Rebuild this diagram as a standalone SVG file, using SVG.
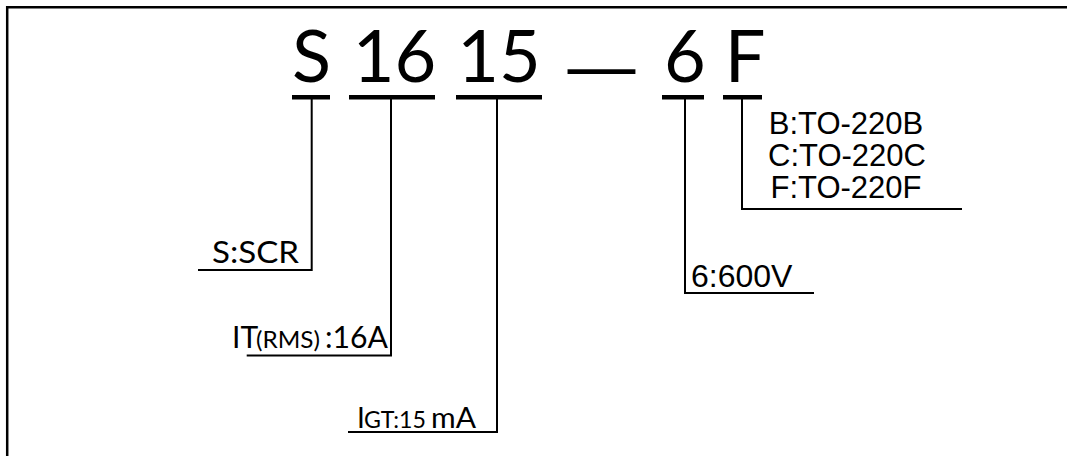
<svg xmlns="http://www.w3.org/2000/svg" width="1067" height="456" viewBox="0 0 1067 456">
<style>
.big{font-family:Lato,"Open Sans",sans-serif;font-size:72px;fill:#000;text-anchor:middle}
.cal{font-family:Lato,"Open Sans",sans-serif;fill:#000}
.ari{font-family:"Liberation Sans",Arial,sans-serif;fill:#000}
.ul{fill:#000}
.conn{stroke:#000;stroke-width:2;fill:none}
.frame{stroke:#000;stroke-width:2.5;fill:none}
</style>
<rect x="0" y="0" width="1067" height="456" fill="#fff"/>
<path class="frame" d="M7.2 456 V7.2 H1067"/>
<g id="code-S"><text class="big" x="311.5" y="82">S</text><rect class="ul" x="292" y="95" width="38" height="4.5"/></g>
<g id="code-16"><text class="big" x="394.5" y="82">16</text><rect class="ul" x="349" y="95" width="86" height="4.5"/></g>
<g id="code-15"><text class="big" x="499" y="82">15</text><rect class="ul" x="456" y="95" width="86" height="4.5"/></g>
<g id="dash"><text class="big" x="601.5" y="93" textLength="81" lengthAdjust="spacingAndGlyphs">—</text></g>
<g id="code-6"><text class="big" x="685" y="82">6</text><rect class="ul" x="662" y="95" width="42" height="4.5"/></g>
<g id="code-F"><text class="big" x="745" y="82">F</text><rect class="ul" x="723" y="95" width="39" height="4.5"/></g>
<g id="connectors">
<path class="conn" d="M311.7 99 V270 H198"/>
<path class="conn" d="M391 99 V355.5 H246.7"/>
<path class="conn" d="M497 99 V432 H348"/>
<path class="conn" d="M685 99 V293 H814"/>
<path class="conn" d="M742 99 V209 H962"/>
</g>
<g id="label-S"><text class="cal" x="212" y="263" font-size="31" textLength="87" lengthAdjust="spacingAndGlyphs">S:SCR</text></g>
<g id="label-16"><text class="cal" y="348" font-size="30"><tspan x="232">IT</tspan><tspan x="256" font-size="24" textLength="64" lengthAdjust="spacingAndGlyphs">(RMS)</tspan><tspan x="325" textLength="63" lengthAdjust="spacingAndGlyphs">:16A</tspan></text></g>
<g id="label-15"><text class="cal" y="428" font-size="28"><tspan x="357">I</tspan><tspan x="364" font-size="23" textLength="62" lengthAdjust="spacingAndGlyphs">GT:15</tspan><tspan x="431" textLength="45" lengthAdjust="spacingAndGlyphs">mA</tspan></text></g>
<g id="label-6"><text class="ari" x="691" y="287" font-size="32">6:600V</text></g>
<g id="label-F"><text class="ari" font-size="31" text-anchor="middle"><tspan x="846" y="134">B:TO-220B</tspan><tspan x="847" y="166">C:TO-220C</tspan><tspan x="846" y="198">F:TO-220F</tspan></text></g>
</svg>
